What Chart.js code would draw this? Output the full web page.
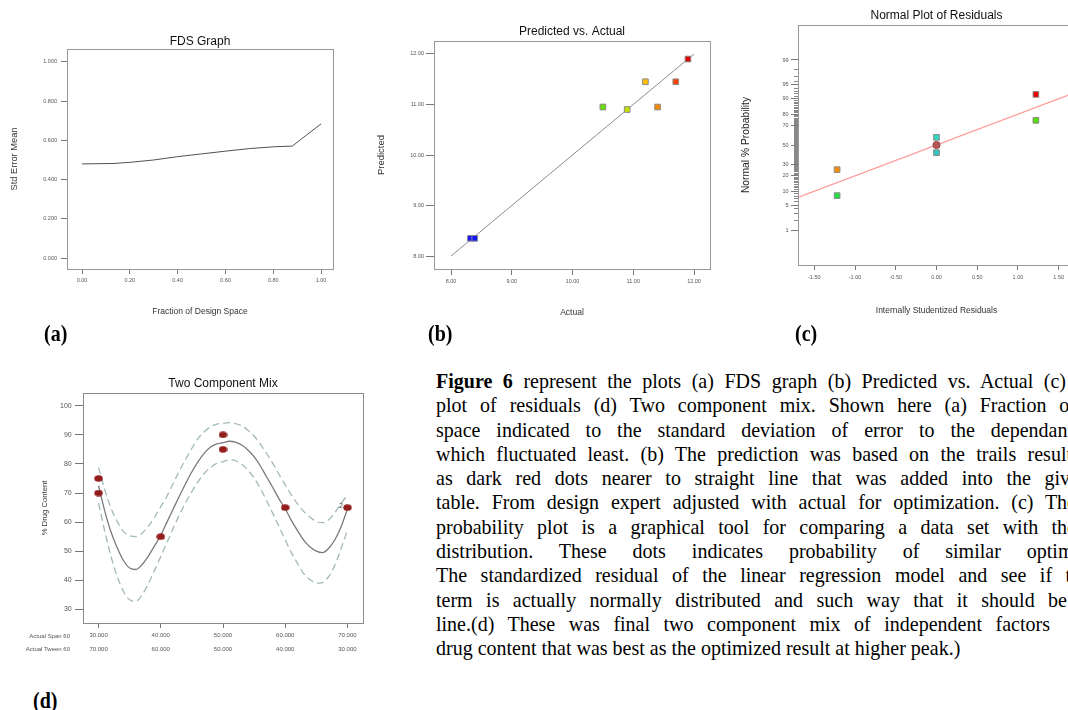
<!DOCTYPE html>
<html>
<head>
<meta charset="utf-8">
<script src="https://cdn.jsdelivr.net/npm/chart.js@4.4.1/dist/chart.umd.min.js"></script>
<style>
html,body{margin:0;padding:0;background:#fff;}
body{width:1068px;height:710px;overflow:hidden;position:relative;font-family:"Liberation Sans",Arial,sans-serif;}
canvas{position:absolute;}
.plab{position:absolute;font-family:"Liberation Serif","Times New Roman",serif;font-weight:bold;font-size:20px;line-height:24px;color:#000;transform:scaleY(1.12);transform-origin:left center;}
.ln{position:absolute;left:436px;height:24.3px;font-family:"Liberation Serif","Times New Roman",serif;font-size:20px;line-height:24.3px;color:#000;text-align:justify;text-align-last:justify;transform:scaleY(1.02);transform-origin:left center;}
.ln.last{text-align:left;text-align-last:left;}
.rowlab{position:absolute;left:0;width:70px;text-align:right;font-size:6px;line-height:8px;color:#555;}
</style>
</head>
<body>
<canvas id="cA" width="345" height="305" style="left:0px;top:20px"></canvas>
<canvas id="cB" width="360" height="305" style="left:360px;top:20px"></canvas>
<canvas id="cC" width="360" height="325" style="left:730px;top:0px"></canvas>
<canvas id="cD" width="375" height="290" style="left:0px;top:370px"></canvas>

<div class="plab" style="left:44px;top:321px">(a)</div>
<div class="plab" style="left:428px;top:321px">(b)</div>
<div class="plab" style="left:795px;top:321px">(c)</div>
<div class="plab" style="left:33px;top:688px">(d)</div>

<div class="rowlab" style="top:631.7px">Actual Span 60</div>
<div class="rowlab" style="top:645px">Actual Tween 60</div>

<div class="ln" style="top:368.9px;width:630px"><b>Figure 6</b> represent the plots (a) FDS graph (b) Predicted vs. Actual (c)</div>
<div class="ln" style="top:393.2px;width:640px">plot of residuals (d) Two component mix. Shown here (a) Fraction of</div>
<div class="ln" style="top:417.5px;width:637px">space indicated to the standard deviation of error to the dependant</div>
<div class="ln" style="top:441.8px;width:636px">which fluctuated least. (b) The prediction was based on the trails result</div>
<div class="ln" style="top:466.1px;width:653px">as dark red dots nearer to straight line that was added into the given</div>
<div class="ln" style="top:490.4px;width:640px">table. From design expert adjusted with actual for optimization. (c) The</div>
<div class="ln" style="top:514.7px;width:640px">probability plot is a graphical tool for comparing a data set with the</div>
<div class="ln" style="top:539.0px;width:663px">distribution. These dots indicates probability of similar optimum</div>
<div class="ln" style="top:563.3px;width:654px">The standardized residual of the linear regression model and see if the</div>
<div class="ln" style="top:587.6px;width:631px">term is actually normally distributed and such way that it should be</div>
<div class="ln" style="top:611.9px;width:614px">line.(d) These was final two component mix of independent factors</div>
<div class="ln last" style="top:636.2px;width:640px">drug content that was best as the optimized result at higher peak.)</div>

<script>
// ---------------- DATA ----------------
// (a) FDS graph
const fdsX = [0, 0.13, 0.2, 0.3, 0.4, 0.5, 0.6, 0.7, 0.8, 0.88, 0.94, 1.0];
const fdsY = [0.480, 0.482, 0.488, 0.500, 0.517, 0.531, 0.545, 0.558, 0.567, 0.571, 0.628, 0.684];
const fdsXTicks = [0, 0.2, 0.4, 0.6, 0.8, 1.0];
const fdsYTicks = [0, 0.2, 0.4, 0.6, 0.8, 1.0];

// (b) Predicted vs. Actual
const pvaActual    = [8.32, 8.39, 10.50, 10.90, 11.20, 11.40, 11.70, 11.90];
const pvaPredicted = [8.35, 8.35, 10.95, 10.90, 11.45, 10.95, 11.45, 11.90];
const pvaColors = ['#1414ff', '#1414ff', '#66e000', '#c8e000', '#ffbf00', '#ff8a00', '#ff4000', '#e00000'];
const pvaLineX = [8, 12];
const pvaLineY = [8, 12];
const pvaTicks = [8, 9, 10, 11, 12];

// (c) Normal plot of residuals
const residX    = [-1.22, -1.22, 0, 0, 1.22, 1.22];
const residProb = [25.0, 8.3, 58.3, 41.7, 91.7, 75.0];
const residColors = ['#ff8c00', '#20e040', '#30d8c8', '#30c8c0', '#ee0000', '#50e000'];
const centerX = [0];
const centerProb = [50];
const fitLineX = [-1.7, 1.7];
const fitLineProb = [7.6, 92.4];
const residXTicks = [-1.5, -1.0, -0.5, 0, 0.5, 1.0, 1.5];
const probTicks = [1, 5, 10, 20, 30, 50, 70, 80, 90, 95, 99];

// (d) Two component mix
const mixX = [30,31,32,33,34,35,36,37,38,39,40,41,42,43,44,45,46,47,48,49,50,51,52,53,54,55,56,57,58,59,60,61,62,63,64,65,66,67,68,69,70];
const mixFit = [72.5,63.8,56.6,51.2,46.8,44.2,43.7,45.4,48.3,51.8,55.5,60.0,64.5,69.0,73.3,77.3,80.8,83.7,85.8,86.9,87.3,87.8,87.5,86.5,84.8,82.5,79.3,75.6,71.9,68.0,64.6,60.5,57.0,53.7,51.4,50.0,49.5,51.0,54.0,58.5,64.5];
const mixUpper = [78.8,71.1,64.8,60.2,56.8,55.3,55.0,56.2,58.5,61.7,65.3,69.0,73.3,77.7,81.6,85.4,88.8,91.1,92.8,93.7,94.0,94.2,93.9,93.1,91.6,89.6,86.8,83.6,80.2,76.4,72.8,69.3,66.2,63.6,61.7,60.2,59.8,60.8,63.3,66.5,69.3];
const mixLower = [66.5,56.8,48.2,41.3,36.2,33.3,32.8,35.0,38.8,43.4,48.2,53.0,57.9,62.5,66.7,70.5,73.9,76.8,78.8,80.2,80.8,81.4,81.1,79.9,77.9,75.1,71.6,67.4,63.0,58.5,53.9,49.5,45.7,42.2,40.2,39.0,39.2,41.3,45.3,51.0,57.3];
const mixPtsX = [30, 30, 40, 50, 50, 60, 70];
const mixPtsY = [75, 70, 55, 90, 85, 65, 65];
const mixXTicks = [30, 40, 50, 60, 70];
const mixSpanLabels = ['30.000', '40.000', '50.000', '60.000', '70.000'];
const mixTweenLabels = ['70.000', '60.000', '50.000', '40.000', '30.000'];
const mixYTicks = [30, 40, 50, 60, 70, 80, 90, 100];

// ---------------- HELPERS ----------------
const FF = "'Liberation Sans', Arial, Helvetica, sans-serif";

function probit(p) {
  const a=[-3.969683028665376e+01,2.209460984245205e+02,-2.759285104469687e+02,1.383577518672690e+02,-3.066479806614716e+01,2.506628277459239e+00];
  const b=[-5.447609879822406e+01,1.615858368580409e+02,-1.556989798598866e+02,6.680131188771972e+01,-1.328068155288572e+01];
  const c=[-7.784894002430293e-03,-3.223964580411365e-01,-2.400758277161838e+00,-2.549732539343734e+00,4.374664141464968e+00,2.938163982698783e+00];
  const d=[7.784695709041462e-03,3.224671290700398e-01,2.445134137142996e+00,3.754408661907416e+00];
  const pl = 0.02425, ph = 1 - pl; let q, r;
  if (p < pl) { q = Math.sqrt(-2*Math.log(p)); return (((((c[0]*q+c[1])*q+c[2])*q+c[3])*q+c[4])*q+c[5])/((((d[0]*q+d[1])*q+d[2])*q+d[3])*q+1); }
  if (p <= ph) { q = p - 0.5; r = q*q; return (((((a[0]*r+a[1])*r+a[2])*r+a[3])*r+a[4])*r+a[5])*q/(((((b[0]*r+b[1])*r+b[2])*r+b[3])*r+b[4])*r+1); }
  q = Math.sqrt(-2*Math.log(1-p)); return -(((((c[0]*q+c[1])*q+c[2])*q+c[3])*q+c[4])*q+c[5])/((((d[0]*q+d[1])*q+d[2])*q+d[3])*q+1);
}
const pz = pct => probit(pct / 100);

function mkAxis(o) {
  return {
    type: 'linear', position: o.pos, min: o.min, max: o.max, weight: o.weight || 0,
    afterBuildTicks: s => { s.ticks = o.ticks.map(v => ({ value: v })); },
    afterFit: s => { if (o.pos === 'left') s.width = o.size; else s.height = o.size; },
    grid: { display: true, drawOnChartArea: false, drawTicks: true, tickLength: o.tl, tickColor: o.tickColor || '#777', tickWidth: 1 },
    border: { display: false },
    ticks: { display: o.labels !== false, font: { family: FF, size: o.fs || 5.5, lineHeight: o.lh || 1.2 }, color: '#555', padding: o.pad || 0, autoSkip: false, maxRotation: 0, minRotation: 0, callback: o.cb },
    title: { display: !!o.title, text: o.title || '', font: { family: FF, size: o.tfs || 8.5 }, color: o.tcolor || '#333', padding: o.tpad || 0 }
  };
}

const framePlugin = {
  id: 'frame',
  afterDatasetsDraw(chart, args, opts) {
    const a = chart.chartArea, ctx = chart.ctx;
    ctx.save();
    ctx.strokeStyle = opts.color || '#999';
    ctx.lineWidth = opts.width || 1;
    ctx.strokeRect(Math.round(a.left) + 0.5, Math.round(a.top) + 0.5, Math.round(a.right - a.left), Math.round(a.bottom - a.top));
    ctx.restore();
  }
};

function titleOpt(text, pt, pb) {
  return { display: true, text: text, fullSize: false, color: '#111', font: { family: FF, size: 12, weight: 'normal' }, padding: { top: pt, bottom: pb } };
}

const common = { responsive: false, animation: false, events: [], devicePixelRatio: 1 };

// ---------------- (a) FDS ----------------
new Chart(document.getElementById('cA'), {
  type: 'line',
  data: { datasets: [{ data: fdsX.map((x, i) => ({ x: x, y: fdsY[i] })), borderColor: '#505050', borderWidth: 1, pointRadius: 0, tension: 0 }] },
  options: Object.assign({}, common, {
    layout: { padding: { left: 0, right: 12, top: 0, bottom: 0 } },
    plugins: { legend: { display: false }, tooltip: { enabled: false }, title: titleOpt('FDS Graph', 14, 0.6), frame: { color: '#999' } },
    scales: {
      x: mkAxis({ pos: 'bottom', min: -0.0628, max: 1.050, ticks: fdsXTicks, size: 56, tl: 5, pad: 3.4, cb: v => v.toFixed(2), title: 'Fraction of Design Space', tpad: { top: 0, bottom: 7.9 } }),
      y: mkAxis({ pos: 'left', min: -0.056, max: 1.066, ticks: fdsYTicks, size: 67, tl: 6, pad: 4, cb: v => v.toFixed(3), title: 'Std Error Mean', tfs: 9.3, tpad: { top: 8.4, bottom: 0 } })
    }
  }),
  plugins: [framePlugin]
});

// ---------------- (b) Predicted vs Actual ----------------
new Chart(document.getElementById('cB'), {
  type: 'scatter',
  data: { datasets: [
    { type: 'scatter', order: 0, data: pvaActual.map((x, i) => ({ x: x, y: pvaPredicted[i] })), pointStyle: 'rect', pointRadius: 4, backgroundColor: pvaColors, borderColor: '#8a8a8a', borderWidth: 1 },
    { type: 'line', order: 1, data: pvaLineX.map((x, i) => ({ x: x, y: pvaLineY[i] })), borderColor: '#8c8c8c', borderWidth: 1, pointRadius: 0 }
  ] },
  options: Object.assign({}, common, {
    layout: { padding: { left: 0, right: 10, top: 0, bottom: 0 } },
    plugins: { legend: { display: false }, tooltip: { enabled: false }, title: titleOpt('Predicted vs. Actual', 4.8, 1.8), frame: { color: '#999' } },
    scales: {
      x: mkAxis({ pos: 'bottom', min: 7.72, max: 12.263, ticks: pvaTicks, size: 56, tl: 6, pad: 3, cb: v => v.toFixed(2), title: 'Actual', tpad: { top: 0, bottom: 6.9 } }),
      y: mkAxis({ pos: 'left', min: 7.743, max: 12.257, ticks: pvaTicks, size: 74, tl: 8, pad: 2, cb: v => v.toFixed(2), title: 'Predicted', tfs: 9.5, tpad: { top: 15.3, bottom: 0 } })
    }
  }),
  plugins: [framePlugin]
});

// ---------------- (c) Normal plot of residuals ----------------
const minorProb = [];
for (let p = 1; p <= 99; p++) { if (probTicks.indexOf(p) < 0) minorProb.push(p); }
const zMax = 3.284;

new Chart(document.getElementById('cC'), {
  type: 'scatter',
  data: { datasets: [
    { type: 'scatter', order: 0, data: residX.map((x, i) => ({ x: x, y: pz(residProb[i]) })), pointStyle: 'rect', pointRadius: 4, backgroundColor: residColors, borderColor: '#8a8a8a', borderWidth: 1 },
    { type: 'scatter', order: 0, data: centerX.map((x, i) => ({ x: x, y: pz(centerProb[i]) })), pointStyle: 'circle', pointRadius: 3.6, backgroundColor: '#b45656', borderColor: '#9a4444', borderWidth: 1 },
    { type: 'line', order: 1, data: fitLineX.map((x, i) => ({ x: x, y: pz(fitLineProb[i]) })), borderColor: '#ff9a9a', borderWidth: 1.2, pointRadius: 0 }
  ] },
  options: Object.assign({}, common, {
    layout: { padding: { left: 0, right: 15, top: 0, bottom: 0 } },
    plugins: { legend: { display: false }, tooltip: { enabled: false }, title: titleOpt('Normal Plot of Residuals', 8.8, 1.8), frame: { color: '#999' } },
    scales: {
      x: mkAxis({ pos: 'bottom', min: -1.7, max: 1.7, ticks: residXTicks, size: 60, tl: 5, pad: 4.4, cb: v => v.toFixed(2), title: 'Internally Studentized Residuals', tpad: { top: 0, bottom: 8.9 } }),
      y: mkAxis({ pos: 'left', weight: 1, min: -zMax, max: zMax, ticks: probTicks.map(pz), size: 68, tl: 7, pad: 2.5, fs: 5.5, cb: (v, i) => String(probTicks[i]), title: 'Normal % Probability', tfs: 10.3, tcolor: '#222', tpad: { top: 9.5, bottom: 0 } }),
      y2: mkAxis({ pos: 'left', weight: 0, min: -zMax, max: zMax, ticks: minorProb.map(pz), size: 0, tl: 4, labels: false, tickColor: '#888' })
    }
  }),
  plugins: [framePlugin]
});

// ---------------- (d) Two component mix ----------------
const dot = document.createElement('canvas');
dot.width = 9; dot.height = 7;
(function () { const g = dot.getContext('2d'); g.fillStyle = '#931d1d'; g.beginPath(); g.ellipse(4.5, 3.5, 4.2, 3.2, 0, 0, Math.PI * 2); g.fill(); })();

const twoLabel = {
  id: 'twoLabel',
  afterDatasetsDraw(chart) {
    const meta = chart.getDatasetMeta(0);
    const el = meta.data[mixPtsX.length - 1];
    if (!el) return;
    const ctx = chart.ctx;
    ctx.save();
    ctx.fillStyle = '#333';
    ctx.font = '7px ' + FF;
    ctx.textAlign = 'center';
    ctx.textBaseline = 'middle';
    ctx.fillText('2', el.x - 6.5, el.y - 1.5);
    ctx.restore();
  }
};

new Chart(document.getElementById('cD'), {
  type: 'scatter',
  data: { datasets: [
    { type: 'scatter', order: 0, data: mixPtsX.map((x, i) => ({ x: x, y: mixPtsY[i] })), pointStyle: dot, pointRadius: 4 },
    { type: 'line', order: 1, data: mixX.map((x, i) => ({ x: x, y: mixFit[i] })), borderColor: '#7a7a7a', borderWidth: 1.3, pointRadius: 0, cubicInterpolationMode: 'monotone' },
    { type: 'line', order: 1, data: mixX.map((x, i) => ({ x: x, y: mixUpper[i] })), borderColor: '#a3b9b9', borderWidth: 1.3, borderDash: [7, 4], pointRadius: 0, cubicInterpolationMode: 'monotone' },
    { type: 'line', order: 1, data: mixX.map((x, i) => ({ x: x, y: mixLower[i] })), borderColor: '#a3b9b9', borderWidth: 1.3, borderDash: [7, 4], pointRadius: 0, cubicInterpolationMode: 'monotone' }
  ] },
  options: Object.assign({}, common, {
    layout: { padding: { left: 0, right: 12, top: 0, bottom: 0 } },
    plugins: { legend: { display: false }, tooltip: { enabled: false }, title: titleOpt('Two Component Mix', 6.8, 1.8), frame: { color: '#8c8c8c' } },
    scales: {
      x: mkAxis({ pos: 'bottom', min: 27.5, max: 72.5, ticks: mixXTicks, size: 37, tl: 5, pad: 1, fs: 6, lh: 13.3 / 6, cb: (v, i) => [mixSpanLabels[i], mixTweenLabels[i]] }),
      y: mkAxis({ pos: 'left', min: 25.3, max: 104.4, ticks: mixYTicks, size: 83, tl: 8, pad: 3.3, fs: 7, cb: v => String(v), title: '% Drug Content', tfs: 7.7, tpad: { top: 40.4, bottom: 0 } })
    }
  }),
  plugins: [framePlugin, twoLabel]
});
</script>
</body>
</html>
